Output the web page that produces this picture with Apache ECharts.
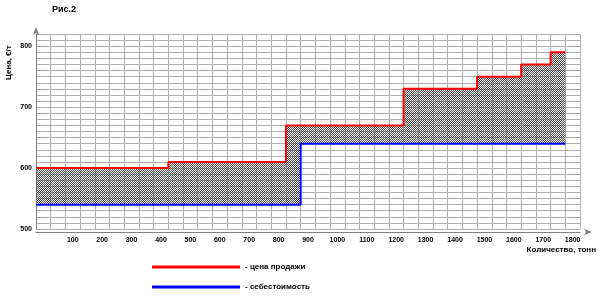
<!DOCTYPE html>
<html>
<head>
<meta charset="utf-8">
<script src="https://cdn.jsdelivr.net/npm/echarts@6/dist/echarts.min.js"></script>
<style>html,body{margin:0;padding:0;background:#fff;}#c{width:600px;height:300px;}</style>
</head>
<body>
<div id="c"></div>
<script>
// ---- data ----
const redX = [0, 450, 850, 1250, 1500, 1650, 1750, 1800];
const redY = [600, 610, 670, 730, 750, 770, 790, 790];
const blueX = [0, 900, 1800];
const blueY = [540, 640, 640];
const yTickLabels = [500, 600, 700, 800];
const xTickLabels = [100,200,300,400,500,600,700,800,900,1000,1100,1200,1300,1400,1500,1600,1700,1800];
const redName = 'цена продажи';
const blueName = 'себестоимость';

function stepAt(xs, ys, x) {
  let v = ys[0];
  for (let i = 0; i < xs.length; i++) if (xs[i] <= x) v = ys[i];
  return v;
}
const allX = Array.from(new Set(redX.concat(blueX))).sort((a, b) => a - b);
const bandData = [];
for (let i = 0; i < allX.length - 1; i++) {
  const x0 = allX[i], x1 = allX[i + 1];
  bandData.push([x0, x1, stepAt(blueX, blueY, x0), stepAt(redX, redY, x0)]);
}
const redData = redX.map((x, i) => [x, redY[i]]);
const blueData = blueX.map((x, i) => [x, blueY[i]]);

// hatch pattern
const pc = document.createElement('canvas');
pc.width = 4; pc.height = 4;
const pctx = pc.getContext('2d');
pctx.fillStyle = '#4a4a4a';
for (let x = 0; x < 4; x++) for (let y = 0; y < 4; y++) {
  if ((x + y) % 4 === 3 || (x + y) % 4 === 1) pctx.fillRect(x, y, 1, 1);
}
const hatch = {image: pc, repeat: 'repeat'};

const FONT = 'Liberation Sans';
const chart = echarts.init(document.getElementById('c'), null, {renderer: 'canvas'});
chart.setOption({
  animation: false,
  backgroundColor: '#ffffff',
  grid: {left: 36, right: 20, top: 34, bottom: 71},
  legend: {
    orient: 'vertical', left: 152, top: 263, padding: 0, itemWidth: 88, itemHeight: 3, itemGap: 12,
    icon: 'rect',
    data: [redName, blueName],
    formatter: n => '- ' + n,
    textStyle: {fontFamily: FONT, fontWeight: 'bold', fontSize: 8, color: '#000'}
  },
  graphic: [
    {type: 'text', left: 52, top: 5, style: {text: 'Рис.2', font: 'bold 9px ' + FONT, fill: '#000'}},
    {type: 'text', right: 4, top: 246, style: {text: 'Количество, тонн', font: 'bold 8px ' + FONT, fill: '#000'}},
    {type: 'text', x: 5, y: 80, rotation: Math.PI / 2, style: {text: 'Цена, €/т', font: 'bold 8px ' + FONT, fill: '#000', textVerticalAlign: 'top'}}
  ],
  xAxis: [
    {
      type: 'value', min: 0, max: 1850, interval: 50, offset: 3,
      axisLine: {show: true, lineStyle: {color: '#808080', width: 1}, symbol: ['none', 'arrow'], symbolSize: [5, 8], symbolOffset: [0, 12]},
      axisTick: {show: false},
      axisLabel: {show: false},
      splitLine: {show: true, lineStyle: {color: '#b0b0b0', width: 1}}
    },
    {
      type: 'value', min: 0, max: 1850, interval: 25, offset: 3, position: 'bottom',
      axisLine: {show: false}, axisTick: {show: false}, splitLine: {show: false},
      axisLabel: {
        show: true, margin: 5, fontFamily: FONT, fontWeight: 'bold', fontSize: 7, color: '#000',
        formatter: v => xTickLabels.indexOf(v - 25) >= 0 ? String(v - 25) : ''
      }
    }
  ],
  yAxis: {
    type: 'value', min: 500, max: 820, interval: 10,
    axisLine: {show: true, lineStyle: {color: '#808080', width: 1}, symbol: ['none', 'arrow'], symbolSize: [5, 8], symbolOffset: [0, 7]},
    axisTick: {show: false},
    axisLabel: {
      margin: 4, fontFamily: FONT, fontWeight: 'bold', fontSize: 7, color: '#000',
      formatter: v => yTickLabels.indexOf(v) >= 0 ? String(v) : ''
    },
    splitLine: {show: true, lineStyle: {color: '#b0b0b0', width: 1}}
  },
  series: [
    {name: 'band', type: 'custom', data: bandData, silent: true, z: 2,
     encode: {x: [0, 1], y: [2, 3]},
     renderItem: function (params, api) {
       const p0 = api.coord([api.value(0), api.value(3)]);
       const p1 = api.coord([api.value(1), api.value(2)]);
       return {type: 'rect', shape: {x: p0[0], y: p0[1], width: p1[0] - p0[0], height: p1[1] - p0[1]},
               style: {fill: hatch, stroke: null}};
     }},
    {name: redName, type: 'line', step: 'end', data: redData, symbol: 'none', color: '#ff0000',
     lineStyle: {color: '#ff0000', width: 2}, z: 5},
    {name: blueName, type: 'line', step: 'end', data: blueData, symbol: 'none', color: '#0000ff',
     lineStyle: {color: '#0000ff', width: 2}, z: 4}
  ]
});
</script>
</body>
</html>
